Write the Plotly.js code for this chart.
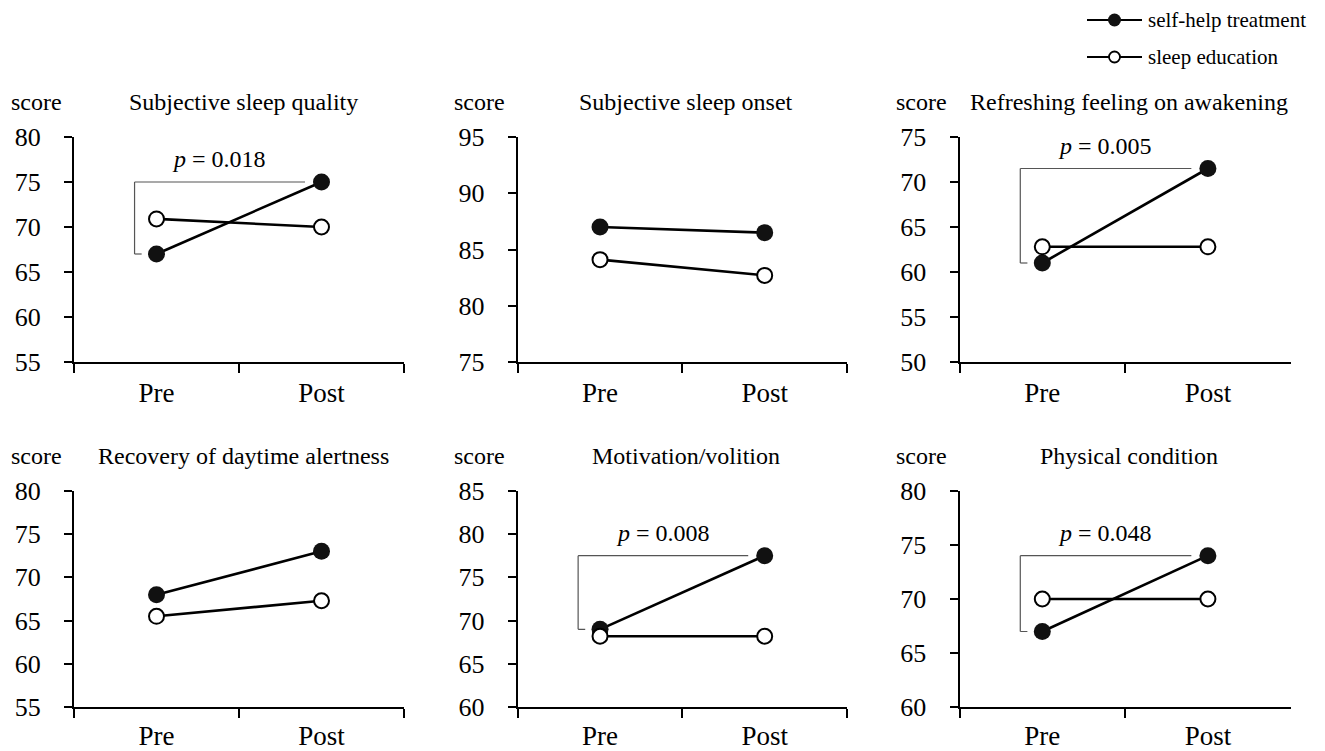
<!DOCTYPE html>
<html>
<head>
<meta charset="utf-8">
<script src="https://cdn.plot.ly/plotly-3.0.1.min.js"></script>
<style>html,body{margin:0;padding:0;background:#fff;}#chart{width:1325px;height:751px;}</style>
</head>
<body>
<div id="chart"></div>
<script>
// ---- data ----
const categories = ['Pre', 'Post'];
const seriesNames = ['self-help treatment', 'sleep education'];
const panelTitles = ['Subjective sleep quality', 'Subjective sleep onset', 'Refreshing feeling on awakening',
                     'Recovery of daytime alertness', 'Motivation/volition', 'Physical condition'];
const selfHelpQuality = [67, 75];
const selfHelpOnset = [87, 86.5];
const selfHelpRefreshing = [61, 71.5];
const selfHelpAlertness = [68, 73];
const selfHelpMotivation = [69, 77.5];
const selfHelpPhysical = [67, 74];
const educationQuality = [70.9, 70];
const educationOnset = [84.1, 82.7];
const educationRefreshing = [62.8, 62.8];
const educationAlertness = [65.5, 67.3];
const educationMotivation = [68.2, 68.2];
const educationPhysical = [70, 70];
const yMin = [55, 75, 50, 55, 60, 60];
const yMax = [80, 95, 75, 80, 85, 80];
const pValues = ['0.018', null, '0.005', null, '0.008', '0.048'];
const yLabel = 'score';

const selfHelp = [selfHelpQuality, selfHelpOnset, selfHelpRefreshing, selfHelpAlertness, selfHelpMotivation, selfHelpPhysical];
const education = [educationQuality, educationOnset, educationRefreshing, educationAlertness, educationMotivation, educationPhysical];

// ---- layout geometry ----
const W = 1325, H = 751;
const colPx = [[74, 404], [517.7, 847], [959.5, 1290.7]];
const rowPx = [[137, 362], [490.7, 707.3]];
const FONT = '"Liberation Serif", "Times New Roman", serif';

const traces = [];
const layout = {
  width: W, height: H,
  margin: {l: 0, r: 0, t: 0, b: 0},
  paper_bgcolor: '#fff', plot_bgcolor: 'rgba(0,0,0,0)',
  font: {family: FONT, color: '#000'},
  showlegend: false,
  shapes: [], annotations: []
};

for (let i = 0; i < 6; i++) {
  const n = i + 1;
  const row = Math.floor(i / 3);
  const c = colPx[i % 3], r = rowPx[row];
  const xd = [c[0] / W, c[1] / W];
  const yd = [1 - r[1] / H, 1 - r[0] / H];
  const xa = 'x' + (n === 1 ? '' : n), ya = 'y' + (n === 1 ? '' : n);
  layout['xaxis' + (n === 1 ? '' : n)] = {
    domain: xd, anchor: ya, type: 'category', range: [-0.5, 1.5],
    tickson: 'boundaries', ticks: 'outside', ticklen: 9, tickwidth: 2, tickcolor: '#000',
    showline: true, linewidth: 2, linecolor: '#000', showgrid: false, zeroline: false,
    tickfont: {size: 27, family: FONT, color: '#000'}, ticklabelstandoff: row === 0 ? 6 : 3, fixedrange: true
  };
  layout['yaxis' + (n === 1 ? '' : n)] = {
    domain: yd, anchor: xa, range: [yMin[i], yMax[i]], dtick: 5, tick0: 0,
    ticks: 'outside', ticklen: 8, tickwidth: 2, tickcolor: '#000',
    showline: true, linewidth: 2, linecolor: '#000', showgrid: false, zeroline: false,
    tickfont: {size: 26, family: FONT, color: '#000'}, ticklabelstandoff: 18, fixedrange: true
  };
  traces.push({
    x: categories, y: selfHelp[i], xaxis: xa, yaxis: ya, name: seriesNames[0],
    type: 'scatter', mode: 'lines+markers', cliponaxis: false,
    line: {color: '#000', width: 2.6}, marker: {size: 17, color: '#111'}
  });
  traces.push({
    x: categories, y: education[i], xaxis: xa, yaxis: ya, name: seriesNames[1],
    type: 'scatter', mode: 'lines+markers', cliponaxis: false,
    line: {color: '#000', width: 2.6}, marker: {size: 15, color: '#fff', line: {color: '#000', width: 2}}
  });
  // panel title
  layout.annotations.push({
    text: panelTitles[i], xref: 'paper', yref: 'paper', x: (xd[0] + xd[1]) / 2 + 4 / W, y: yd[1],
    yshift: 35, xanchor: 'center', yanchor: 'middle', showarrow: false,
    font: {size: 24, family: FONT, color: '#000'}
  });
  layout.annotations.push({
    text: yLabel, xref: 'paper', yref: 'paper', x: xd[0], y: yd[1],
    xshift: -38, yshift: 35, xanchor: 'center', yanchor: 'middle', showarrow: false,
    font: {size: 24, family: FONT, color: '#000'}
  });
  // significance bracket
  if (pValues[i]) {
    const lo = selfHelp[i][0], hi = selfHelp[i][1];
    const bl = {color: '#555', width: 1.2};
    layout.shapes.push({type: 'line', xref: xa, yref: ya, x0: -0.133, x1: 0.9, y0: hi, y1: hi, line: bl});
    layout.shapes.push({type: 'line', xref: xa, yref: ya, x0: -0.133, x1: -0.133, y0: hi, y1: lo, line: bl});
    layout.shapes.push({type: 'line', xref: xa, yref: ya, x0: -0.133, x1: -0.09, y0: lo, y1: lo, line: bl});
    layout.annotations.push({
      text: '<i>p</i> = ' + pValues[i], xref: xa, yref: ya, x: 0.38, y: hi, yshift: 23,
      xanchor: 'center', yanchor: 'middle', showarrow: false,
      font: {size: 24, family: FONT, color: '#000'}
    });
  }
}

// ---- custom legend ----
const legY = [1 - 20 / H, 1 - 57 / H];
for (let k = 0; k < 2; k++) {
  layout.shapes.push({type: 'line', xref: 'paper', yref: 'paper', x0: 1087 / W, x1: 1142 / W,
    y0: legY[k], y1: legY[k], line: {color: '#000', width: 2}});
  const rad = k === 0 ? 6.5 : 5.5;
  layout.shapes.push({type: 'circle', xref: 'paper', yref: 'paper', xsizemode: 'pixel', ysizemode: 'pixel',
    xanchor: 1114.5 / W, yanchor: legY[k], x0: -rad, x1: rad, y0: -rad, y1: rad,
    fillcolor: k === 0 ? '#111' : '#fff', line: {color: '#000', width: k === 0 ? 0 : 1.8}});
  layout.annotations.push({text: seriesNames[k], xref: 'paper', yref: 'paper', x: 1146 / W, y: legY[k],
    xanchor: 'left', yanchor: 'middle', showarrow: false, font: {size: 21, family: FONT, color: '#000'}});
}

Plotly.newPlot('chart', traces, layout, {staticPlot: true, displayModeBar: false});
</script>
</body>
</html>
